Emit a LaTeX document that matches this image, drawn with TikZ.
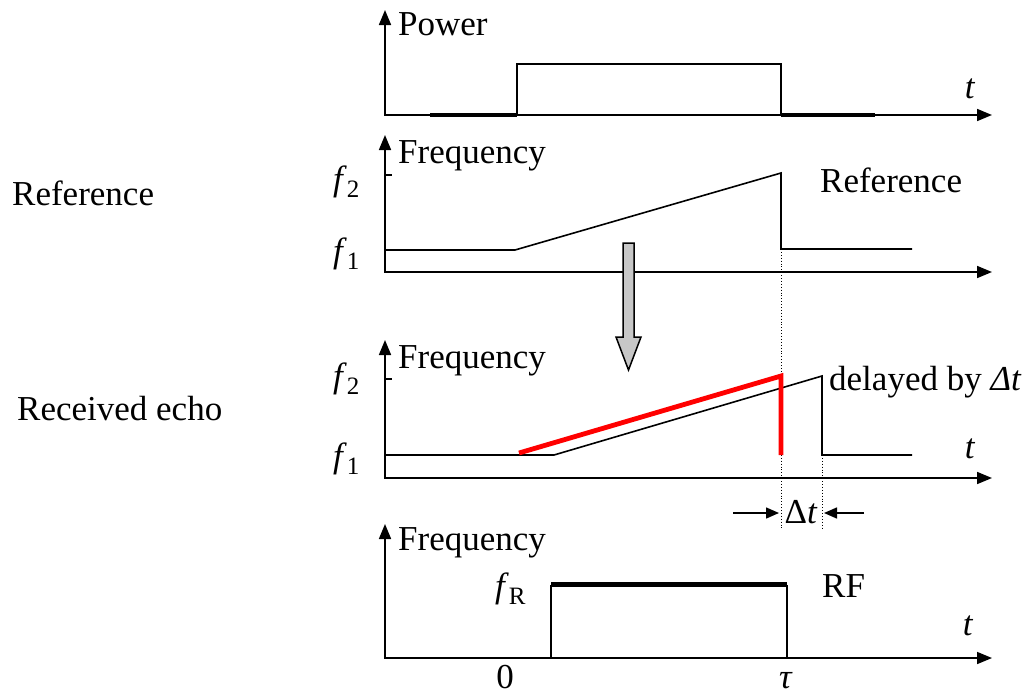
\documentclass[tikz,border=0pt]{standalone}
\usepackage{fontspec}
\setmainfont{Liberation Serif}
\usetikzlibrary{arrows.meta}
\newcommand\lowsub[1]{\raisebox{-0.2em}{\fontsize{25}{25}\selectfont #1}}
\begin{document}
\begin{tikzpicture}[x=1pt,y=-1pt,
  txt/.style={font=\fontsize{35}{40}\selectfont, inner sep=0pt, anchor=base west},
  ctxt/.style={font=\fontsize{35}{40}\selectfont, inner sep=0pt, anchor=base},
  axis/.style={line width=1.7pt,{Triangle[length=15pt,width=12pt]}-{Triangle[length=15pt,width=12pt]}},
  curve/.style={line width=1.6pt},
  thickbase/.style={line width=3.2pt},
  redcurve/.style={line width=4.8pt, red},
  guide/.style={line width=0.9pt, dotted},
  dimarrow/.style={line width=1.5pt,-{Triangle[length=13pt,width=11pt]}},
  bigarrow/.style={draw=black, line width=1.5pt, fill=black!22}]
\useasboundingbox (0,0) rectangle (1034,694);

% ---------- Panel 1: Power ----------
\draw[axis] (385,10) -- (385,115) -- (992,115);
\node[txt] (power) at (398,35) {Power};
\node[ctxt] (t1) at (970,98) {\textit{t}};
\draw[thickbase] (430,115) -- (517,115);
\draw[thickbase] (781,115) -- (875,115);
\draw[curve] (517,115) -- (517,64) -- (781,64) -- (781,115);

% ---------- Panel 2: Reference ----------
\draw[axis] (385,135) -- (385,272) -- (992,272);
\draw[curve] (385,175) -- (392,175);
\node[txt] (freq2) at (398,163) {Frequency};
\node[txt] (f22) at (333,190) {\textit{f}\lowsub{2}};
\node[txt] (f12) at (333,262) {\textit{f}\lowsub{1}};
\node[txt] (refR) at (820,192) {Reference};
\node[txt] (refL) at (12,205) {Reference};
\draw[curve] (385,250) -- (515,250) -- (781,173) -- (781,249) -- (912,249);

% dotted guides
\draw[guide] (781,249) -- (781,530);
\draw[guide] (822,455) -- (822,530);

% gray arrow
\draw[bigarrow] (623,243) -- (634,243) -- (634,337) -- (641,337) -- (628.5,370)
  -- (616,337) -- (623,337) -- cycle;

% ---------- Panel 3: Received echo ----------
\draw[axis] (385,340) -- (385,478) -- (992,478);
\draw[curve] (385,379) -- (392,379);
\node[txt] (freq3) at (398,368) {Frequency};
\node[txt] (f23) at (333,387) {\textit{f}\lowsub{2}};
\node[txt] (f13) at (333,467) {\textit{f}\lowsub{1}};
\node[txt] (delayed) at (829,390) {delayed by \textit{Δt}};
\node[ctxt] (t3) at (970,458) {\textit{t}};
\node[txt] (echo) at (17,420) {Received echo};
\draw[curve] (385,455) -- (554,455) -- (822,376) -- (822,455) -- (912,455);
\draw[redcurve] (519,453) -- (781,376) -- (781,455);

% delta t dimension
\coordinate (dl) at (733,513);
\coordinate (dr) at (864,513);
\coordinate (dla) at (779,513);
\coordinate (dra) at (824,513);
\draw[dimarrow] (dl) -- (dla);
\draw[dimarrow] (dr) -- (dra);
\node[ctxt] (dt) at (801,523) {Δ\textit{t}};

% ---------- Panel 4: RF ----------
\draw[axis] (385,524) -- (385,658) -- (992,658);
\node[txt] (freq4) at (398,550) {Frequency};
\node[txt] (fR) at (495,597) {\textit{f}\lowsub{R}};
\node[txt] (rf) at (822,597) {RF};
\node[ctxt] (t4) at (968,635) {\textit{t}};
\node[ctxt] (zero) at (505,688) {0};
\node[ctxt] (tau) at (786,688) {\textit{τ}};
\draw[curve] (551,658) -- (551,586) -- (787,586) -- (787,658);
\draw[line width=4.5pt] (551,584.5) -- (787,584.5);
\end{tikzpicture}
\end{document}
